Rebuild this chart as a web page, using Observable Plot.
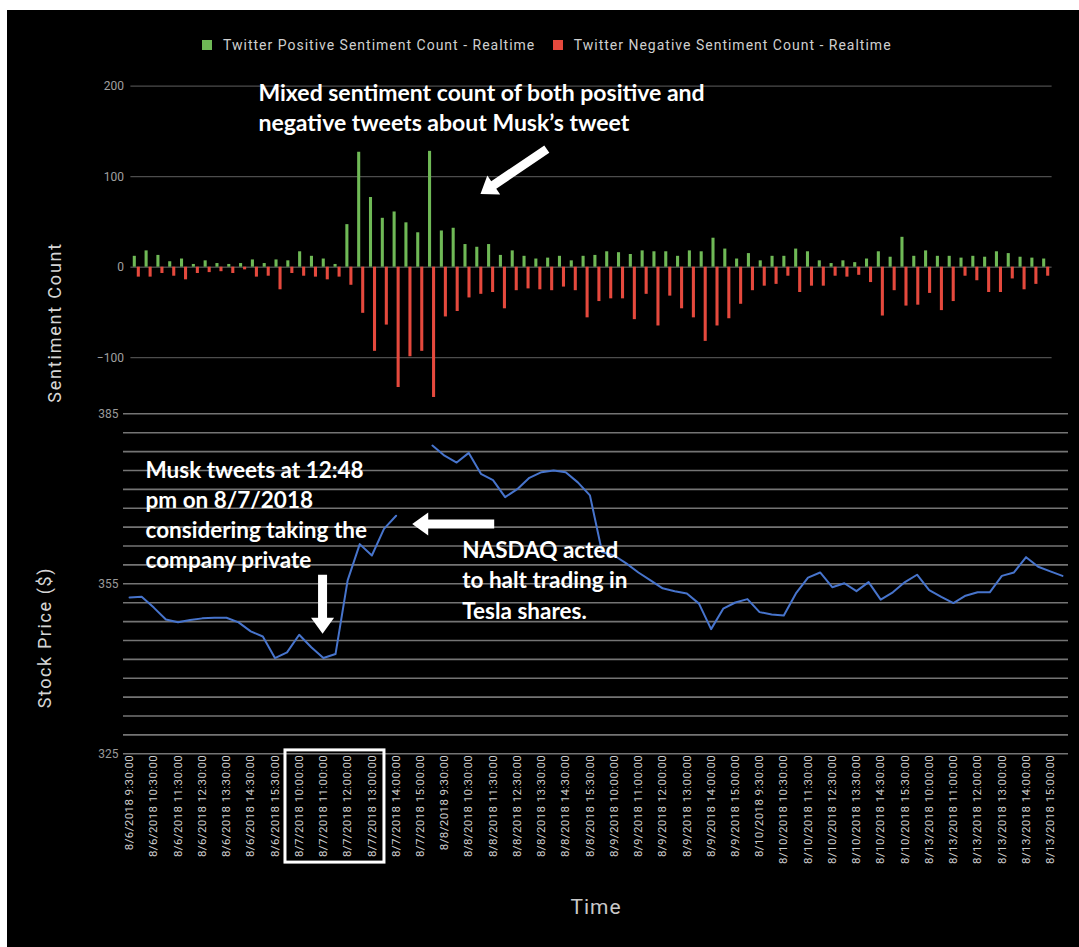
<!DOCTYPE html>
<html>
<head>
<meta charset="utf-8">
<script src="https://cdn.jsdelivr.net/npm/d3@7"></script>
<script src="https://cdn.jsdelivr.net/npm/@observablehq/plot@0.6"></script>
<style>
html, body { margin: 0; padding: 0; background: #ffffff; width: 1079px; height: 947px; overflow: hidden; }
#frame { position: absolute; left: 7px; top: 10px; width: 1072px; height: 937px; background: #000; }
.layer { position: absolute; left: 0; }
#legend { position: absolute; left: 202px; top: 28px; letter-spacing: 1px; }
.lg-swatch { margin-right: 17.5px !important; }
.lg-swatch > svg { margin-right: 11px !important; }
</style>
</head>
<body>
<div id="frame"></div>
<div id="legend"></div>
<div id="top" class="layer" style="top:0px"></div>
<div id="bottom" class="layer" style="top:400px"></div>
<script>
// ---------- data ----------
const seriesNames = ["Twitter Positive Sentiment Count - Realtime", "Twitter Negative Sentiment Count - Realtime"];

const positiveCounts = [12,18,13,6,9,3,7,4,3,4,8,4,8,7,17,12,9,3,47,127,77,54,61,49,38,128,40,43,25,22,25,13,18,12,9,10,12,7,12,13,17,16,14,18,17,17,12,18,17,32,20,9,15,7,12,12,20,17,7,4,7,5,9,17,11,33,12,18,12,12,10,12,11,17,15,11,10,9];

const negativeCounts = [11,11,7,10,14,7,6,5,7,3,11,10,25,7,10,11,14,11,20,51,93,64,133,99,93,144,55,49,34,30,28,46,26,24,25,26,22,26,56,38,35,35,58,30,65,32,46,56,82,65,57,41,26,21,19,10,28,21,21,10,11,9,17,54,26,43,42,29,48,38,10,15,28,28,13,25,19,10];

const stockPrice = [352.6,352.7,350.8,348.7,348.2,348.6,348.9,349.0,349.0,348.2,346.6,345.7,341.9,342.9,346.0,343.8,341.9,342.6,355.6,362.0,360.0,364.7,367.0,null,null,379.4,377.6,376.4,378.1,374.4,373.3,370.3,371.7,373.7,374.7,375.0,374.7,372.9,370.6,360.6,360.0,358.6,357.0,355.6,354.2,353.7,353.3,351.5,347.0,350.6,351.7,352.3,350.0,349.6,349.4,353.3,356.1,357.0,354.4,355.1,353.7,355.3,352.2,353.5,355.3,356.6,353.9,352.7,351.6,352.9,353.5,353.5,356.4,357.0,359.7,358.0,357.2,356.4];

const timeLabels = [
  "8/6/2018 9:30:00","8/6/2018 10:30:00","8/6/2018 11:30:00","8/6/2018 12:30:00","8/6/2018 13:30:00","8/6/2018 14:30:00","8/6/2018 15:30:00",
  "8/7/2018 10:00:00","8/7/2018 11:00:00","8/7/2018 12:00:00","8/7/2018 13:00:00","8/7/2018 14:00:00","8/7/2018 15:00:00",
  "8/8/2018 9:30:00","8/8/2018 10:30:00","8/8/2018 11:30:00","8/8/2018 12:30:00","8/8/2018 13:30:00","8/8/2018 14:30:00","8/8/2018 15:30:00",
  "8/9/2018 10:00:00","8/9/2018 11:00:00","8/9/2018 12:00:00","8/9/2018 13:00:00","8/9/2018 14:00:00","8/9/2018 15:00:00",
  "8/10/2018 9:30:00","8/10/2018 10:30:00","8/10/2018 11:30:00","8/10/2018 12:30:00","8/10/2018 13:30:00","8/10/2018 14:30:00","8/10/2018 15:30:00",
  "8/13/2018 10:00:00","8/13/2018 11:00:00","8/13/2018 12:00:00","8/13/2018 13:00:00","8/13/2018 14:00:00","8/13/2018 15:00:00"
];

const sentimentTicks = [-100, 0, 100, 200];
const sentimentGrid = [-100, 100, 200];
const priceTicks = [325, 355, 385];
const priceGrid = d3.range(0, 19).map(k => 325 + k * 10 / 3);

const annotationTop = ["Mixed sentiment count of both positive and\nnegative tweets about Musk\u2019s tweet"];
const annotationTweet = ["Musk tweets at 12:48\npm on 8/7/2018\nconsidering taking the\ncompany private"];
const annotationHalt = ["NASDAQ acted\nto halt trading in\nTesla shares."];

// ---------- styles ----------
const GREEN = "#6fb956";
const RED = "#e5493d";
const BLUE = "#4774cc";
const ANN_FONT = 22.5;

const blockArrow = {
  draw(ctx, l) {
    const s = 4.5, h = 11.5, hl = 16;
    ctx.moveTo(-s, 0);
    ctx.lineTo(-s, -(l - hl));
    ctx.lineTo(-h, -(l - hl));
    ctx.lineTo(0, -l);
    ctx.lineTo(h, -(l - hl));
    ctx.lineTo(s, -(l - hl));
    ctx.lineTo(s, 0);
    ctx.closePath();
  }
};

function spaceText(chart, content, spacing) {
  d3.select(chart).selectAll("text")
    .filter(function () { return this.textContent === content; })
    .style("letter-spacing", spacing);
}

// ---------- legend ----------
const legend = Plot.legend({
  color: {type: "ordinal", domain: seriesNames, range: [GREEN, RED]},
  legend: "swatches",
  swatchSize: 10,
  className: "lg",
  style: {fontFamily: "Roboto, sans-serif", fontSize: "14px", color: "#cfcfcf", background: "transparent"}
});
document.getElementById("legend").appendChild(legend);

// ---------- top chart: sentiment ----------
const sentRows = positiveCounts.map((p, i) => ({i, pos: p, neg: -negativeCounts[i]}));

const topChart = Plot.plot({
  width: 1079,
  height: 410,
  marginLeft: 130.4,
  marginRight: 27.4,
  marginTop: 85.7,
  marginBottom: 7.6,
  style: {background: "transparent", color: "#a9a9a9", fontFamily: "Roboto, sans-serif", fontSize: "12px", overflow: "visible"},
  x: {domain: [-0.5, 77.5], axis: null},
  y: {domain: [-150, 200], axis: null},
  marks: [
    Plot.ruleY(sentimentGrid, {stroke: "#4d4d4d", strokeWidth: 1.2}),
    Plot.ruleY([0], {stroke: "#6a6a6a", strokeWidth: 1}),
    Plot.axisY({ticks: sentimentTicks, tickSize: 0, tickPadding: 7, label: null, fill: "#a0a0a0", fontSize: 12}),
    Plot.rect(sentRows, {x1: d => d.i - 0.30, x2: d => d.i - 0.04, y1: 0, y2: "pos", fill: GREEN}),
    Plot.rect(sentRows, {x1: d => d.i + 0.04, x2: d => d.i + 0.30, y1: 0, y2: "neg", fill: RED}),
    Plot.text(["Sentiment Count"], {text: d => d, x: -6.88, y: -61, rotate: -90, fontSize: 18, fill: "#d6d6d6"}),
    Plot.text(annotationTop, {text: d => d, x: 10.3, y: 208.1, textAnchor: "start", lineAnchor: "top", lineHeight: 30 / ANN_FONT,
      fontFamily: "Lato, sans-serif", fontWeight: "bold", fontSize: 23, fill: "#ffffff"}),
    Plot.vector([0], {x: () => 29.1, y: () => 81, rotate: 236, length: 80, anchor: "end", shape: blockArrow, fill: "#ffffff", stroke: "none"})
  ]
});
spaceText(topChart, "Sentiment Count", "1.8px");
document.getElementById("top").appendChild(topChart);

// ---------- bottom chart: stock price ----------
const priceRows = stockPrice.map((v, i) => ({i, v}));

const bottomChart = Plot.plot({
  width: 1079,
  height: 547,
  marginLeft: 123,
  marginRight: 11,
  marginTop: 13.3,
  marginBottom: 193.7,
  style: {background: "transparent", color: "#a9a9a9", fontFamily: "Roboto, sans-serif", fontSize: "12px", overflow: "visible"},
  x: {domain: [-0.5, 77.5], axis: null},
  y: {domain: [325, 385], axis: null},
  marks: [
    Plot.ruleY(priceGrid, {stroke: "#747474", strokeWidth: 1.6}),
    Plot.axisY({ticks: priceTicks, tickSize: 0, tickPadding: 5, label: null, fill: "#9a9a9a", fontSize: 12}),
    Plot.axisX({ticks: d3.range(0, 78, 2), tickFormat: d => timeLabels[d / 2], tickRotate: -90, tickSize: 0, tickPadding: 1,
      label: null, fontSize: 11.5, fill: "#cfcfcf", fontFamily: "Roboto, sans-serif"}),
    Plot.line(priceRows, {x: "i", y: "v", stroke: BLUE, strokeWidth: 2}),
    Plot.rect([0], {x1: () => 12.87, x2: () => 21.04, y1: () => 305.8, y2: () => 325.6, stroke: "#ffffff", strokeWidth: 3, fill: "none"}),
    Plot.text(annotationTweet, {text: d => d, x: 1.32, y: 377.47, textAnchor: "start", lineAnchor: "top", lineHeight: 30 / ANN_FONT,
      fontFamily: "Lato, sans-serif", fontWeight: "bold", fontSize: ANN_FONT, fill: "#ffffff"}),
    Plot.text(annotationHalt, {text: d => d, x: 27.46, y: 363.4, textAnchor: "start", lineAnchor: "top", lineHeight: 30.5 / ANN_FONT,
      fontFamily: "Lato, sans-serif", fontWeight: "bold", fontSize: ANN_FONT, fill: "#ffffff"}),
    Plot.vector([0], {x: () => 23.33, y: () => 365.55, rotate: 270, length: 82, anchor: "end", shape: blockArrow, fill: "#ffffff", stroke: "none"}),
    Plot.vector([0], {x: () => 15.93, y: () => 346.2, rotate: 180, length: 59, anchor: "end", shape: blockArrow, fill: "#ffffff", stroke: "none"}),
    Plot.text(["Stock Price ($)"], {text: d => d, x: -6.94, y: 345.5, rotate: -90, fontSize: 18, fill: "#d6d6d6"}),
    Plot.text(["Time"], {text: d => d, frameAnchor: "bottom", dy: 160, fontSize: 21, fill: "#c9c9c9"})
  ]
});
spaceText(bottomChart, "Stock Price ($)", "1.6px");
spaceText(bottomChart, "Time", "1px");
d3.select(bottomChart).selectAll("text")
  .filter(function () { return /^8\/\d+\/2018/.test(this.textContent); })
  .style("letter-spacing", "0.4px");
document.getElementById("bottom").appendChild(bottomChart);
</script>
</body>
</html>
